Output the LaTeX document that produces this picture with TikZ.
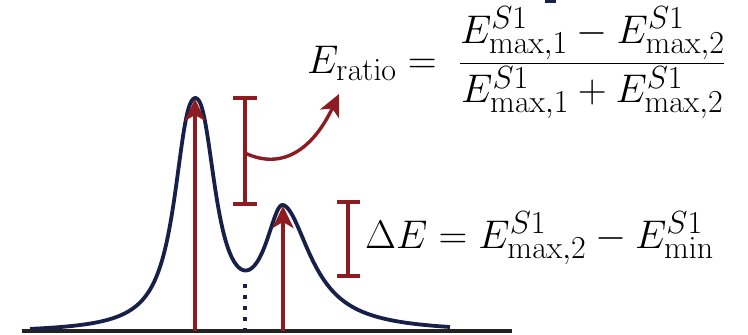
\RequirePackage{fix-cm}
\documentclass[tikz,border=0pt]{standalone}
\usepackage{amsmath}
\DeclareMathSizes{40}{40}{32}{24}
\usetikzlibrary{arrows.meta}
\definecolor{myred}{RGB}{140,28,34}
\definecolor{mynavy}{RGB}{22,32,72}
\definecolor{axisgray}{RGB}{35,35,35}
\tikzset{
  redline/.style={myred, line width=3.4pt},
  redarrow/.style={myred, line width=3.4pt, -{Stealth[length=22pt,width=21pt,inset=6pt]}},
  curveline/.style={mynavy, line width=3.8pt, line join=round},
  eq/.style={inner sep=0pt, font=\fontsize{40}{48}\selectfont},
  declare function={
    lor(\u)=1/(1+\u*\u);
    wtwo(\t)=(\t<283)*22+(\t>=283)*34;
    spec(\t)=136.6*(lor((\t-187)/18)+lor((\t-203)/18))+116.8*lor((\t-283)/wtwo(\t))-3;
  },
}
\begin{document}
\begin{tikzpicture}[x=1pt,y=1pt]
\useasboundingbox (0,0) rectangle (748,-335);
% stub at top
\draw[mynavy, line width=3pt] (545,-1) -- (556,-1);
% baseline
\coordinate (bl) at (22,-331);
\coordinate (br) at (512,-331);
\draw[axisgray, line width=4pt] (bl) -- (br);
% curve
\draw[curveline] plot[domain=30:450, samples=300, smooth] (\x, {spec(\x)-330});
% dotted line at minimum
\coordinate (mintop) at (245,-284);
\coordinate (minbot) at (245,-330);
\draw[mynavy, line width=3.6pt, dash pattern=on 3.6pt off 7.4pt] (mintop) -- (minbot);
% peak arrows
\coordinate (p1b) at (195,-331);
\coordinate (p1t) at (195,-99);
\coordinate (p2b) at (283,-331);
\coordinate (p2t) at (283,-206);
\draw[redarrow] (p1b) -- (p1t);
\draw[redarrow] (p2b) -- (p2t);
% error bar 1
\coordinate (e1t) at (245,-98);
\coordinate (e1b) at (245,-204);
\draw[redline] (e1t) -- (e1b);
\draw[redline] ([xshift=-12pt]e1t) -- ([xshift=12pt]e1t);
\draw[redline] ([xshift=-12pt]e1b) -- ([xshift=12pt]e1b);
\coordinate (cs) at (245,-153);
\coordinate (ce) at (339,-94);
\draw[redarrow] (cs) .. controls (285,-172) and (315,-145) .. (ce);
% error bar 2
\coordinate (e2t) at (348,-202);
\coordinate (e2b) at (348,-276);
\draw[redline] (e2t) -- (e2b);
\draw[redline] ([xshift=-11.5pt]e2t) -- ([xshift=11.5pt]e2t);
\draw[redline] ([xshift=-11.5pt]e2b) -- ([xshift=11.5pt]e2b);
% equations
\node[eq, anchor=base west] (ratio) at (307,-73)
  {$E_{\mathrm{ratio}} = \mkern5mu\dfrac{E^{S1}_{\mathrm{max},1} - E^{S1}_{\mathrm{max},2}}{E^{S1}_{\mathrm{max},1} + E^{S1}_{\mathrm{max},2}}$};
\node[eq, anchor=base west] (delta) at (365,-248)
  {$\Delta E = E^{S1}_{\mathrm{max},2} - E^{S1}_{\mathrm{min}}$};
\end{tikzpicture}
\end{document}
